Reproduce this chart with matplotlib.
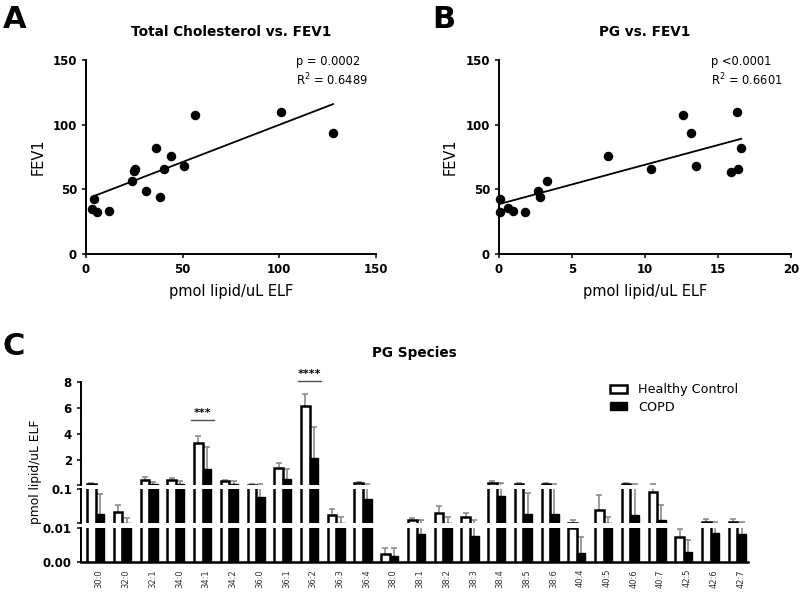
import numpy as np
import matplotlib.pyplot as plt
from matplotlib.patches import Patch
from matplotlib.transforms import ScaledTranslation

# ---- panel A: total cholesterol vs FEV1
chol_x = [4.3, 3.3, 5.5, 12.1, 24.0, 25.0, 25.5, 31.0, 36.0, 38.3, 40.3, 44.1, 50.5, 56.2, 101.0, 127.8]
chol_y = [42.6, 35.1, 32.8, 33.6, 56.5, 63.8, 65.6, 48.8, 81.6, 44.2, 65.6, 75.4, 68.4, 107.4, 109.5, 93.5]
chol_fit_x = [4.3, 127.8]
chol_fit_y = [44.9, 115.9]
chol_stats = ['p = 0.0002', 'R$^2$ = 0.6489']

# ---- panel B: PG vs FEV1
pg_x = [0.05, 0.1, 0.6, 0.96, 1.76, 2.68, 2.84, 3.3, 7.46, 10.39, 12.59, 13.16, 13.5, 15.88, 16.29, 16.34, 16.59]
pg_y = [32.8, 42.6, 35.4, 33.6, 32.8, 48.5, 44.4, 56.5, 75.4, 65.6, 107.4, 93.5, 68.4, 63.5, 109.5, 65.6, 81.6]
pg_fit_x = [0.05, 16.59]
pg_fit_y = [38.7, 89.1]
pg_stats = ['p <0.0001', 'R$^2$ = 0.6601']

# ---- panel C: PG species
species = ['30:0', '32:0', '32:1', '34:0', '34:1', '34:2', '36:0', '36:1', '36:2', '36:3',
           '36:4', '38:0', '38:1', '38:2', '38:3', '38:4', '38:5', '38:6', '40:4', '40:5',
           '40:6', '40:7', '42:5', '42:6', '42:7']
hc_mean = [0.15, 0.021, 0.48, 0.48, 3.35, 0.38, 0.13, 1.43, 6.18, 0.0172,
           0.23, 0.0024, 0.0123, 0.020, 0.0147, 0.28, 0.18, 0.18, 0.0101, 0.024,
           0.18, 0.083, 0.0073, 0.011, 0.011]
hc_upper = [0.25, 0.035, 0.71, 0.66, 3.87, 0.50, 0.17, 1.77, 7.1, 0.0253,
            0.35, 0.004, 0.0137, 0.0316, 0.0193, 0.42, 0.25, 0.25, 0.0123, 0.065,
            0.25, 0.15, 0.0098, 0.0131, 0.0131]
copd_mean = [0.018, 0.0102, 0.18, 0.15, 1.31, 0.18, 0.057, 0.56, 2.15, 0.0102,
             0.052, 0.0018, 0.0082, 0.0101, 0.0076, 0.064, 0.018, 0.019, 0.0026, 0.0101,
             0.0172, 0.0123, 0.0029, 0.0084, 0.0082]
copd_upper = [0.070, 0.0143, 0.35, 0.40, 3.0, 0.40, 0.20, 1.31, 4.54, 0.015,
              0.20, 0.004, 0.0123, 0.0154, 0.0123, 0.23, 0.078, 0.15, 0.0074, 0.0154,
              0.15, 0.033, 0.0065, 0.011, 0.011]
sig_idx = [4, 8]
sig_y = [5.1, 8.1]
sig_text = ['***', '****']

W, H = 800, 594
fig = plt.figure(figsize=(W / 100, H / 100), dpi=100)


def box(x0, y0, x1, y1):
    return [x0 / W, 1 - y1 / H, (x1 - x0) / W, (y1 - y0) / H]


def style(ax):
    for s in ['top', 'right']:
        ax.spines[s].set_visible(False)
    for s in ['left', 'bottom']:
        ax.spines[s].set_linewidth(1.4)
    ax.tick_params(direction='out', length=3, width=1.1, labelsize=8.5)
    for lab in ax.get_xticklabels() + ax.get_yticklabels():
        lab.set_fontweight('bold')


def scatter_panel(ax, x, y, fx, fy, xmax, xticks, stats, title, letter, lx):
    ax.scatter(x, y, s=34, color='black', zorder=3, clip_on=False)
    ax.plot(fx, fy, color='black', lw=1.3)
    ax.set_xlim(0, xmax)
    ax.set_ylim(0, 150)
    ax.set_xticks(xticks)
    ax.set_yticks([0, 50, 100, 150])
    style(ax)
    ax.set_ylabel('FEV1', fontsize=10.5)
    ax.yaxis.set_label_coords(-0.14, 0.5)
    ax.set_xlabel('pmol lipid/uL ELF', fontsize=10.5, labelpad=6)
    ax.text(0.725, 0.99, stats[0], transform=ax.transAxes, va='center', fontsize=8.3)
    ax.text(0.725, 0.897, stats[1], transform=ax.transAxes, va='center', fontsize=8.3)
    ax.set_title(title, fontsize=9.8, fontweight='bold', pad=17)
    fig.text(lx / W, 1 - 28 / H, letter, fontsize=22, fontweight='bold', va='baseline')


axA = fig.add_axes(box(86, 60, 376, 254))
scatter_panel(axA, chol_x, chol_y, chol_fit_x, chol_fit_y, 150, [0, 50, 100, 150],
              chol_stats, 'Total Cholesterol vs. FEV1', 'A', 3)
axB = fig.add_axes(box(499, 60, 791, 254))
scatter_panel(axB, pg_x, pg_y, pg_fit_x, pg_fit_y, 20, [0, 5, 10, 15, 20],
              pg_stats, 'PG vs. FEV1', 'B', 432)

# ---- panel C: three stacked segments of one y axis
ax_top = fig.add_axes(box(81, 382, 748, 485))
ax_mid = fig.add_axes(box(81, 489, 748, 523))
ax_bot = fig.add_axes(box(81, 528, 748, 562))
segments = [(ax_top, 0.1, 8, 'linear'), (ax_mid, 0.01, 0.1, 'log'), (ax_bot, 0, 0.01, 'linear')]

x = np.arange(len(species))
w = 0.32
hc = np.array(hc_mean)
cp = np.array(copd_mean)
hc_up = np.array(hc_upper)
cp_up = np.array(copd_upper)

for ax, lo, hi, scale in segments:
    ax.set_yscale(scale)
    if scale == 'log':
        base, cap_top = lo / 10, hi * 3
    else:
        base, cap_top = lo - (hi - lo) * 0.2, hi + (hi - lo) * 0.2
    groups = [(x - w / 2, hc, hc_up, 'white', 1.8), (x + w / 2, cp, cp_up, 'black', 1.0)]
    for xs, m, u, fc, lw in groups:
        # only bars that reach into this segment
        show = m > lo
        tops = np.minimum(m[show], cap_top)
        ax.bar(xs[show], tops - base, w, bottom=base, color=fc, edgecolor='black',
               linewidth=lw, zorder=2)
        # error bars (upper only)
        ev = (u > lo) & (m < hi)
        ax.vlines(xs[ev], np.maximum(m[ev], base), np.minimum(u[ev], cap_top),
                  color='#8c8c8c', lw=1.2, zorder=1)
        cv = (u >= lo) & (u <= hi)
        ax.plot(xs[cv], u[cv], ls='none', marker='_', ms=4.6, mew=1.2, color='#8c8c8c', zorder=1)
    ax.set_xlim(-0.55, 24.4)
    ax.set_ylim(lo, hi)
    for s in ['top', 'right', 'bottom']:
        ax.spines[s].set_visible(False)
    ax.spines['left'].set_linewidth(1.4)
    ax.tick_params(axis='y', direction='out', length=3, width=1.1, labelsize=8.5)
    ax.tick_params(axis='x', length=0)
    ax.set_xticks([])

ax_top.set_yticks([0.1, 2, 4, 6, 8])
ax_top.set_yticklabels(['', '2', '4', '6', '8'], fontweight='bold')

ax_mid.minorticks_off()
ax_mid.set_yticks([0.01, 0.1])
ax_mid.set_yticklabels(['', '0.1'], fontweight='bold')

ax_bot.set_yticks([0, 0.01])
ax_bot.set_yticklabels(['0.00', '0.01'], fontweight='bold')
ax_bot.spines['bottom'].set_visible(True)
ax_bot.spines['bottom'].set_linewidth(1.8)
ax_bot.set_xticks(x)
ax_bot.set_xticklabels(species, rotation=90, fontsize=6, color='#333333')
ax_bot.tick_params(axis='x', length=0, pad=5)
shift = ScaledTranslation(0.035, 0, fig.dpi_scale_trans)
for lab in ax_bot.get_xticklabels():
    lab.set_transform(lab.get_transform() + shift)

for i, yv, t in zip(sig_idx, sig_y, sig_text):
    ax_top.plot([i - 0.43, i + 0.43], [yv, yv], color='#505050', lw=1.0, clip_on=False)
    ax_top.annotate(t, (i, yv), xytext=(0, 1), textcoords='offset points', ha='center',
                    va='bottom', fontsize=8, fontweight='bold', annotation_clip=False)

ax_top.set_title('PG Species', fontsize=9.8, fontweight='bold', pad=18)
fig.text(36 / W, 1 - 472 / H, 'pmol lipid/uL ELF', rotation=90, ha='center', va='center', fontsize=8.8)
fig.text(3 / W, 1 - 355 / H, 'C', fontsize=22, fontweight='bold', va='baseline')

handles = [Patch(facecolor='white', edgecolor='black', linewidth=1.8, label='Healthy Control'),
           Patch(facecolor='black', edgecolor='black', label='COPD')]
fig.legend(handles=handles, loc='upper left', bbox_to_anchor=(605 / W, 1 - 378 / H), frameon=False,
           fontsize=9.2, handlelength=1.3, handleheight=0.6, handletextpad=0.9, labelspacing=0.35,
           borderaxespad=0)

fig.savefig('out.png', dpi=100)
